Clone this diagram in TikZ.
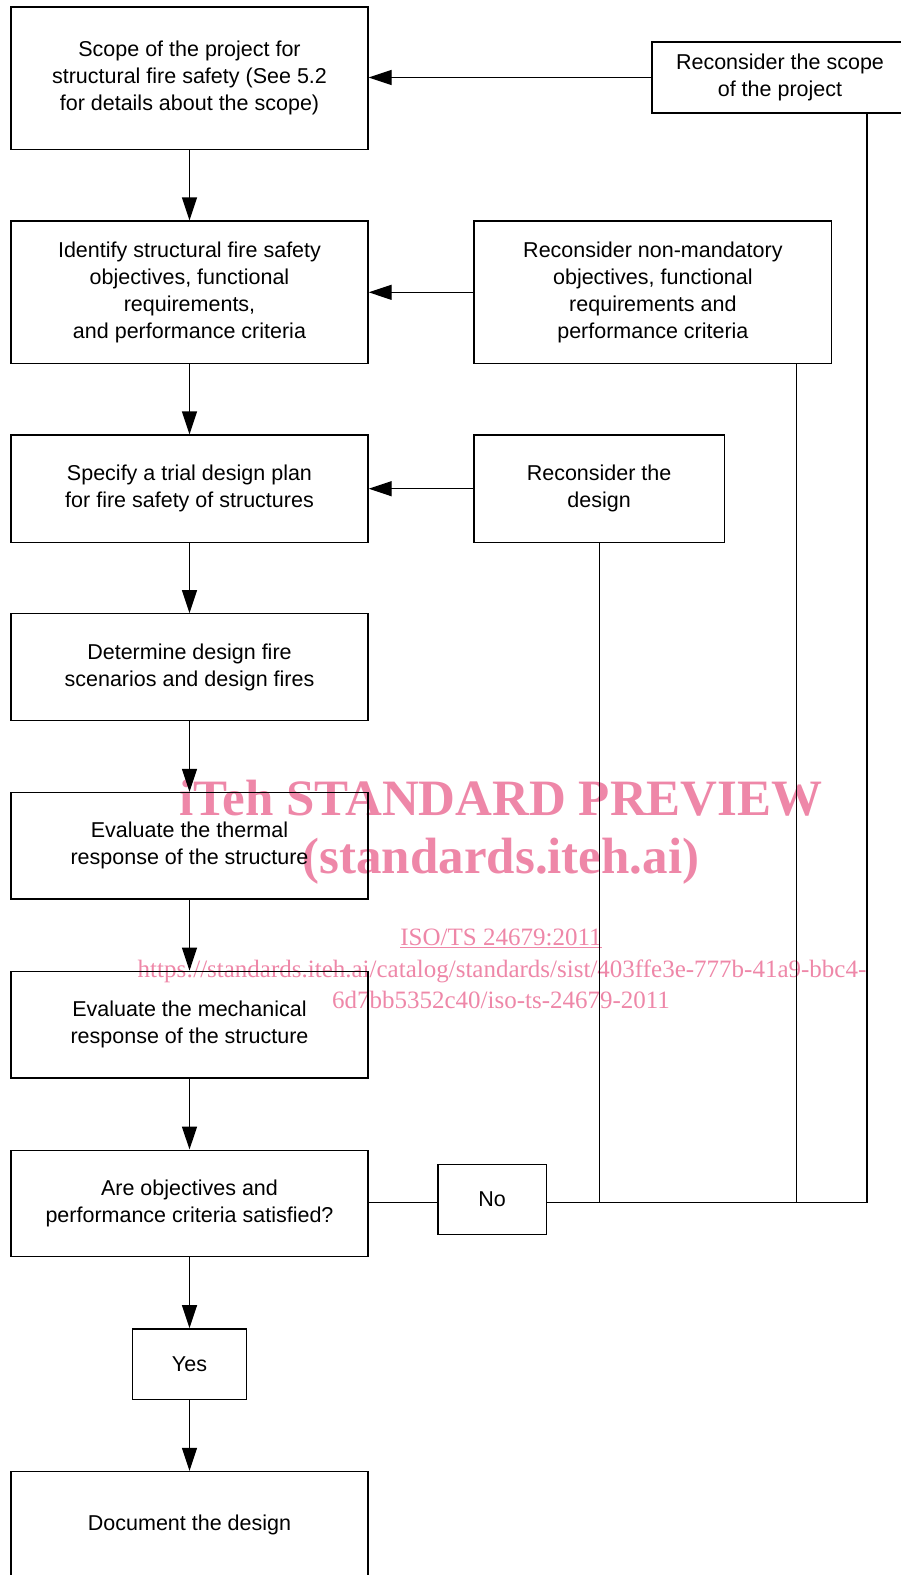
\documentclass[tikz,border=0pt]{standalone}
\usepackage{fontspec}
\setmainfont{Liberation Sans}
\newfontfamily\wmfont{Liberation Serif}
\usetikzlibrary{arrows.meta}
\definecolor{wm}{RGB}{238,135,168}
\begin{document}
\begin{tikzpicture}[x=1pt,y=-1pt,
 box/.style={draw, line width=1.3pt, inner sep=0pt, align=center, font=\fontsize{21.5}{27}\selectfont},
 arr/.style={line width=1.3pt, -{Triangle[length=23pt,width=15pt]}},
 ln/.style={line width=1.2pt},
 wmbig/.style={font=\wmfont\bfseries\fontsize{51}{51}\selectfont, text=wm, anchor=base, inner sep=0pt},
 wmsmall/.style={font=\wmfont\fontsize{25}{31}\selectfont, text=wm, anchor=base, inner sep=0pt}]
\useasboundingbox (0,0) rectangle (900,1575);
% watermark
\node[wmbig] (wm1) at (501,815) {iTeh STANDARD PREVIEW};
\node[wmbig] (wm2) at (501,873) {(standards.iteh.ai)};
\node[wmsmall] (wm3) at (501,945) {\underline{ISO/TS 24679:2011}};
\node[wmsmall] (wm4) at (502,977) {https://standards.iteh.ai/catalog/standards/sist/403ffe3e-777b-41a9-bbc4-};
\node[wmsmall] (wm5) at (501,1008) {6d7bb5352c40/iso-ts-24679-2011};
% left column
\node[box, minimum width=357pt, minimum height=142.7pt] (b1) at (189.5,78.4) {Scope of the project for\\structural fire safety (See 5.2\\for details about the scope)};
\node[box, minimum width=357pt, minimum height=142.6pt] (b2) at (189.5,292.3) {Identify structural fire safety\\objectives, functional\\requirements,\\and performance criteria};
\node[box, minimum width=357pt, minimum height=107.4pt] (b3) at (189.5,488.7) {Specify a trial design plan\\for fire safety of structures};
\node[box, minimum width=357pt, minimum height=106.5pt] (b4) at (189.5,667) {Determine design fire\\scenarios and design fires};
\node[box, minimum width=357pt, minimum height=106.5pt] (b5) at (189.5,845.8) {Evaluate the thermal\\response of the structure};
\node[box, minimum width=357pt, minimum height=106.5pt] (b6) at (189.5,1024.6) {Evaluate the mechanical\\response of the structure};
\node[box, minimum width=357pt, minimum height=106.5pt] (b7) at (189.5,1203.4) {Are objectives and\\performance criteria satisfied?};
\node[box, minimum width=114.4pt, minimum height=70.3pt] (yes) at (189.5,1364) {Yes};
\node[box, minimum width=357pt, minimum height=107pt] (b9) at (189.5,1525) {Document the design};
% right column
\node[box, minimum width=256pt, minimum height=71pt] (r1) at (780,77.5) {Reconsider the scope\\of the project};
\node[box, minimum width=357.7pt, minimum height=142.6pt] (r2) at (652.9,292.3) {Reconsider non-mandatory\\objectives, functional\\requirements and\\performance criteria};
\node[box, minimum width=250.2pt, minimum height=107.4pt] (r3) at (599.1,488.7) {Reconsider the\\design};
\node[box, minimum width=108.4pt, minimum height=70.3pt] (no) at (492.2,1199.4) {No};
% junctions
\coordinate (j1) at (599.7,1202.5);
\coordinate (j2) at (796.6,1202.5);
\coordinate (j3) at (866.9,1202.5);
% down arrows
\draw[arr] (b1.south) -- (b2.north);
\draw[arr] (b2.south) -- (b3.north);
\draw[arr] (b3.south) -- (b4.north);
\draw[arr] (b4.south) -- (b5.north);
\draw[arr] (b5.south) -- (b6.north);
\draw[arr] (b6.south) -- (b7.north);
\draw[arr] (b7.south) -- (yes.north);
\draw[arr] (yes.south) -- (b9.north);
% feedback arrows
\draw[arr] (r1.west) -- (r1.west -| b1.east);
\draw[arr] (r2.west) -- (r2.west -| b2.east);
\draw[arr] (r3.west) -- (r3.west -| b3.east);
% feedback lines
\draw[ln] (b7.east |- j1) -- (j1 -| no.west);
\draw[ln] (j1 -| no.east) -- (j3) -- (j3 |- r1.south);
\draw[ln] (r3.south -| j1) -- (j1);
\draw[ln] (r2.south -| j2) -- (j2);
\end{tikzpicture}
\end{document}
